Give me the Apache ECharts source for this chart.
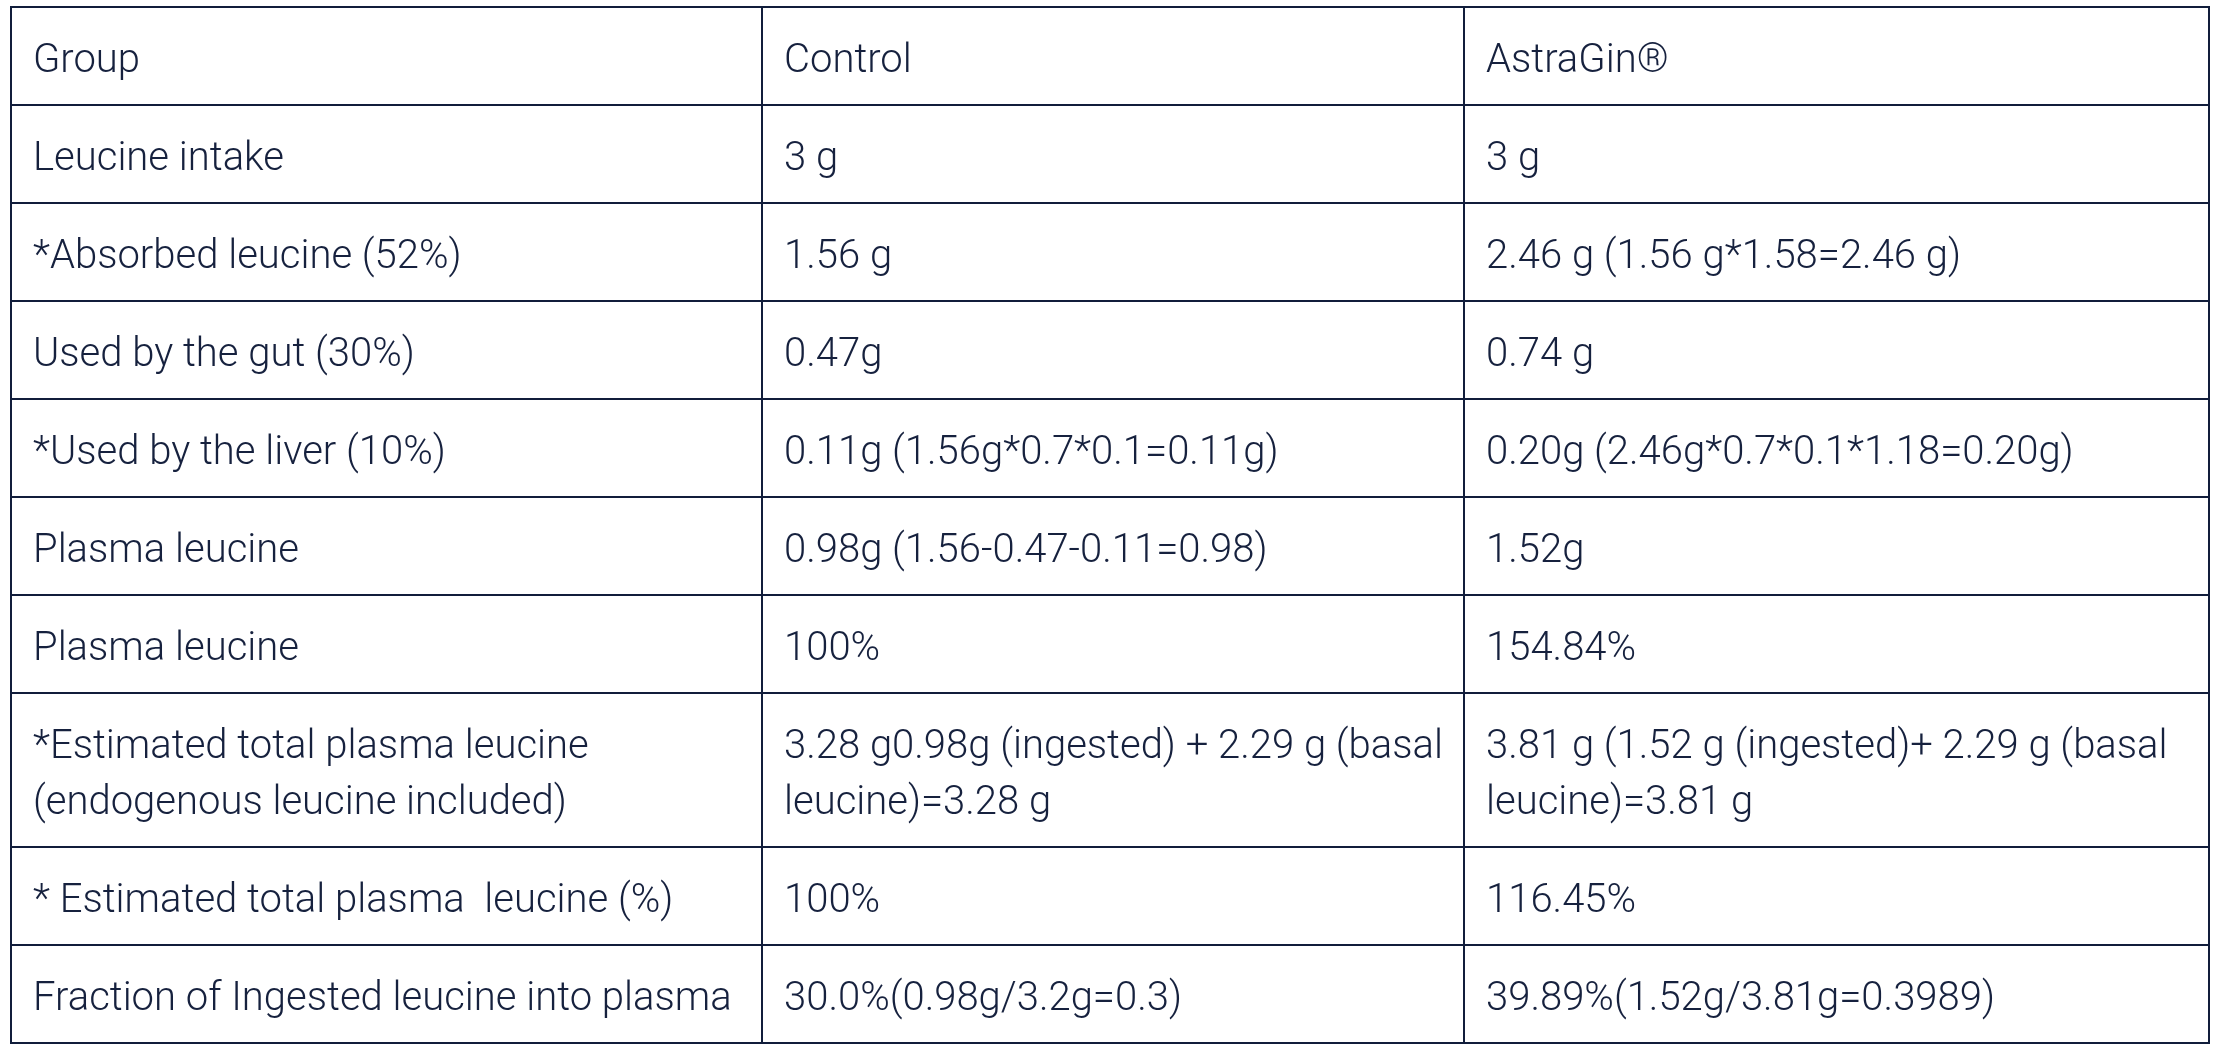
<!DOCTYPE html>
<html>
<head>
<meta charset="utf-8">
<script src="https://cdn.jsdelivr.net/npm/echarts@6/dist/echarts.min.js"></script>
<style>
html,body{margin:0;padding:0;background:#ffffff;}
#chart{width:2222px;height:1052px;}
</style>
</head>
<body>
<div id="chart"></div>
<script>
// ---- data ----
var headerCells = ["Group", "Control", "AstraGin®"];
var rowLabels = [
  "Leucine intake",
  "*Absorbed leucine (52%)",
  "Used by the gut (30%)",
  "*Used by the liver (10%)",
  "Plasma leucine",
  "Plasma leucine",
  "*Estimated total plasma leucine\n(endogenous leucine included)",
  "* Estimated total plasma  leucine (%)",
  "Fraction of Ingested leucine into plasma"
];
var controlValues = [
  "3 g",
  "1.56 g",
  "0.47g",
  "0.11g (1.56g*0.7*0.1=0.11g)",
  "0.98g (1.56-0.47-0.11=0.98)",
  "100%",
  "3.28 g0.98g (ingested) + 2.29 g (basal\nleucine)=3.28 g",
  "100%",
  "30.0%(0.98g/3.2g=0.3)"
];
var astraginValues = [
  "3 g",
  "2.46 g (1.56 g*1.58=2.46 g)",
  "0.74 g",
  "0.20g (2.46g*0.7*0.1*1.18=0.20g)",
  "1.52g",
  "154.84%",
  "3.81 g (1.52 g (ingested)+ 2.29 g (basal\nleucine)=3.81 g",
  "116.45%",
  "39.89%(1.52g/3.81g=0.3989)"
];

// ---- layout / style ----
var colWidths = [751, 702, 745];
var rowPad = 0.75;          // vertical padding per row, in line units
var lineHeightPx = 56;
var fontSize = 40;
var fontFamily = "Roboto";
var fontWeight = 300;
var borderColor = "#111d3b";
var textColor = "#16213e";
var cellPadLeft = 22;
var textDrop = 6;

var table = [headerCells].concat(rowLabels.map(function (lab, i) {
  return [lab, controlValues[i], astraginValues[i]];
}));

var rowUnits = table.map(function (row) {
  var lines = 1;
  row.forEach(function (c) { lines = Math.max(lines, c.split("\n").length); });
  return lines + rowPad;
});
var rowStart = [];
var acc = 0;
rowUnits.forEach(function (u) { rowStart.push(acc); acc += u; });
var totalRows = acc;
var colStart = [];
var cacc = 0;
colWidths.forEach(function (w) { colStart.push(cacc); cacc += w; });
var totalCols = cacc;

var cellData = [];
table.forEach(function (row, r) {
  row.forEach(function (txt, c) {
    cellData.push([colStart[c], rowStart[r], colStart[c] + colWidths[c], rowStart[r] + rowUnits[r], txt]);
  });
});

var chart = echarts.init(document.getElementById("chart"), null, { renderer: "canvas" });
chart.setOption({
  animation: false,
  backgroundColor: "#ffffff",
  grid: { left: 11, right: 13, top: 7, bottom: 9 },
  xAxis: { type: "value", min: 0, max: totalCols, show: false },
  yAxis: { type: "value", min: 0, max: totalRows, inverse: true, show: false },
  series: [{
    type: "custom",
    data: cellData,
    encode: { x: [0, 2], y: [1, 3] },
    renderItem: function (params, api) {
      var p0 = api.coord([api.value(0), api.value(1)]);
      var p1 = api.coord([api.value(2), api.value(3)]);
      var txt = cellData[params.dataIndex][4];
      return {
        type: "group",
        children: [{
          type: "rect",
          shape: { x: p0[0], y: p0[1], width: p1[0] - p0[0], height: p1[1] - p0[1] },
          style: { fill: "none", stroke: borderColor, lineWidth: 2 }
        }, {
          type: "text",
          x: p0[0] + cellPadLeft,
          y: (p0[1] + p1[1]) / 2 + textDrop,
          style: {
            text: txt,
            fill: textColor,
            font: fontWeight + " " + fontSize + "px " + fontFamily,
            lineHeight: lineHeightPx,
            verticalAlign: "middle",
            align: "left"
          }
        }]
      };
    }
  }]
});
</script>
</body>
</html>
